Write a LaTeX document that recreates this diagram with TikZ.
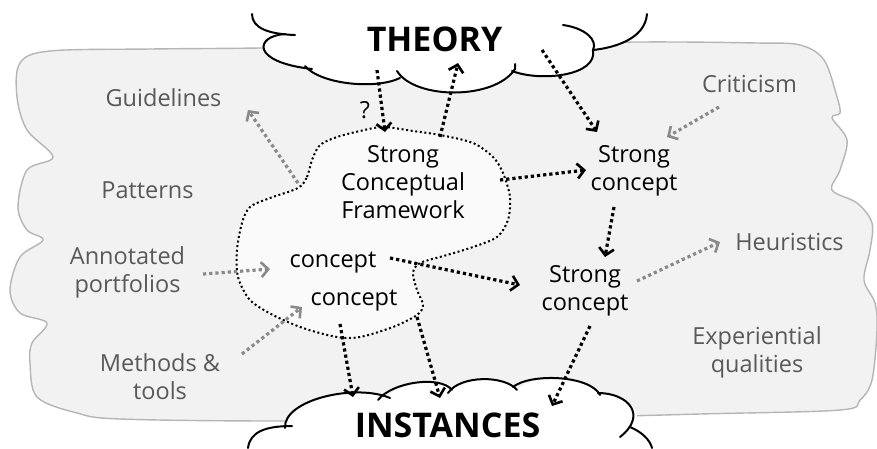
\documentclass[tikz,border=0pt]{standalone}
\usepackage{fontspec}
\setmainfont{Open Sans}
\usetikzlibrary{arrows.meta}
\definecolor{txtgray}{HTML}{595959}
\definecolor{arrgray}{HTML}{8A8A8A}
\definecolor{bgfill}{HTML}{F2F2F2}
\definecolor{bgline}{HTML}{B5B5B5}
\definecolor{blobfill}{HTML}{FAFAFA}
\begin{document}
\begin{tikzpicture}[x=1pt,y=-1pt,
  bgtext/.style={text=txtgray, align=center, font=\fontsize{23.5}{28}\selectfont, inner sep=0pt, anchor=base},
  fgtext/.style={text=black, align=center, font=\fontsize{23.5}{28}\selectfont, inner sep=0pt, anchor=base},
  titletext/.style={text=black, font=\bfseries\fontsize{34}{40}\selectfont, inner sep=0pt, anchor=base},
  flow/.style={draw=black, line width=3.2pt, dash pattern=on 3.2pt off 3pt, -{Straight Barb[length=7pt,width=15pt,line width=2.6pt]}},
  gflow/.style={flow, draw=arrgray},
  cloudline/.style={draw=black, line width=2pt, line cap=round},
  cloudfill/.style={fill=white},
  blobline/.style={draw=black, line width=2pt, dash pattern=on 2pt off 2.6pt, fill=blobfill},
]
\useasboundingbox (0,0) rectangle (877,448);
\clip (0,0) rectangle (877,448);

% background region
\filldraw[fill=bgfill, draw=bgline, line width=1.4pt]
  plot[smooth cycle, tension=0.55] coordinates {
  (50,51) (150,49) (260,48) (450,45) (637,42) (757,43) (800,45) (824,60) (837,97) (840,113)
  (832,118) (847,140) (840,170) (832,190) (857,203) (872,223) (870,250) (864,280)
  (875,303) (877,330) (872,380) (860,400) (840,410) (700,414) (500,419) (280,421)
  (120,419) (77,413) (37,397) (30,363) (32,343) (47,323) (20,313) (10,290) (20,257)
  (43,240) (27,230) (18,207) (27,170) (53,157) (27,130) (17,97) (20,63)};

% concept region
\path[blobline] plot[smooth cycle, tension=0.5] coordinates {
  (298,188) (307,177) (312,160) (320,145) (337,137) (360,131) (383,127) (413,131)
  (440,135) (473,143) (493,157) (503,173) (510,197) (508,220) (497,237) (473,247)
  (447,255) (420,263) (413,273) (417,290) (423,305) (417,315) (393,327) (360,337)
  (337,337) (303,328) (273,315) (250,300) (238,277) (237,250) (242,223) (250,207)
  (270,198)};

% THEORY cloud
\fill[cloudfill] (252,0) -- (252,14) .. controls (252,28) and (268,34) .. (285,34)
  .. controls (255,36) and (250,62) .. (305,66)
  .. controls (320,84) and (375,90) .. (400,78)
  .. controls (420,100) and (495,100) .. (515,69)
  .. controls (540,82) and (598,76) .. (593,50)
  .. controls (612,48) and (645,40) .. (647,14) -- (647,0) -- cycle;
\draw[cloudline] (252,14) .. controls (252,28) and (268,34) .. (295,35);
\draw[cloudline] (285,34) .. controls (255,36) and (250,62) .. (312,69);
\draw[cloudline] (305,66) .. controls (320,84) and (375,90) .. (400,78);
\draw[cloudline] (397,71) .. controls (415,100) and (495,100) .. (515,69) -- (515,64);
\draw[cloudline] (512,71) .. controls (540,82) and (598,76) .. (593,50);
\draw[cloudline] (563,25) .. controls (585,28) and (598,40) .. (593,50)
  .. controls (612,48) and (645,40) .. (647,14);

% INSTANCES cloud
\fill[cloudfill] (248,448) .. controls (250,432) and (265,426) .. (285,426)
  .. controls (283,400) and (355,383) .. (388,397)
  .. controls (395,382) and (440,375) .. (452,390)
  .. controls (462,375) and (505,375) .. (517,390)
  .. controls (532,373) and (590,375) .. (600,395)
  .. controls (625,393) and (645,412) .. (634,424)
  .. controls (644,432) and (650,440) .. (652,448) -- cycle;
\draw[cloudline] (248,448) .. controls (250,432) and (265,426) .. (292,426);
\draw[cloudline] (285,428) .. controls (283,400) and (355,383) .. (390,398);
\draw[cloudline] (378,400) .. controls (392,382) and (440,375) .. (452,390);
\draw[cloudline] (448,393) .. controls (460,375) and (505,375) .. (517,390);
\draw[cloudline] (513,387) .. controls (530,373) and (590,375) .. (600,395);
\draw[cloudline] (598,393) .. controls (628,393) and (648,415) .. (620,437);
\draw[cloudline] (630,427) .. controls (642,432) and (650,440) .. (652,448);

% texts (base anchor = baseline of last line)
\node[titletext] (theory) at (434.5,51) {THEORY};
\node[titletext] (instances) at (447.5,437) {INSTANCES};
\node[fgtext] (q) at (365,118) {?};
\node[fgtext] (scf) at (403,218.3) {Strong\\Conceptual\\Framework};
\node[fgtext] (sc1) at (634,190.7) {Strong\\concept};
\node[fgtext] (sc2) at (585,310.3) {Strong\\concept};
\node[fgtext] (ca) at (333,267) {concept};
\node[fgtext] (cb) at (354,305) {concept};
\node[bgtext] (guide) at (163.5,106) {Guidelines};
\node[bgtext] (patt) at (147.5,198) {Patterns};
\node[bgtext] (annot) at (127.5,292) {Annotated\\portfolios};
\node[bgtext] (meth) at (160,399) {Methods \&\\tools};
\node[bgtext] (crit) at (749.5,92) {Criticism};
\node[bgtext] (heur) at (789.5,250) {Heuristics};
\node[bgtext] (exper) at (757,372) {Experiential\\qualities};

% arrow end points
\coordinate (a1s) at (377,70);  \coordinate (a1e) at (385,132);
\coordinate (a2s) at (440,137); \coordinate (a2e) at (458,63);
\coordinate (a3s) at (542,50);  \coordinate (a3e) at (597,132);
\coordinate (a4s) at (500,180); \coordinate (a4e) at (586,170);
\coordinate (a5s) at (390,258); \coordinate (a5e) at (520,285);
\coordinate (a6s) at (614,207); \coordinate (a6e) at (605,257);
\coordinate (a7s) at (340,324); \coordinate (a7e) at (353,397);
\coordinate (a8s) at (417,317); \coordinate (a8e) at (440,398);
\coordinate (a9s) at (590,326); \coordinate (a9e) at (552,406);
\coordinate (g1s) at (298,183); \coordinate (g1e) at (248,110);
\coordinate (g2s) at (203,274); \coordinate (g2e) at (270,269);
\coordinate (g3s) at (242,354); \coordinate (g3e) at (302,307);
\coordinate (g4s) at (719,107); \coordinate (g4e) at (667,137);
\coordinate (g5s) at (637,281); \coordinate (g5e) at (720,242);

\draw[flow] (a1s) -- (a1e);
\draw[flow] (a2s) -- (a2e);
\draw[flow] (a3s) -- (a3e);
\draw[flow] (a4s) -- (a4e);
\draw[flow] (a5s) -- (a5e);
\draw[flow] (a6s) -- (a6e);
\draw[flow] (a7s) -- (a7e);
\draw[flow] (a8s) -- (a8e);
\draw[flow] (a9s) -- (a9e);
\draw[gflow] (g1s) -- (g1e);
\draw[gflow] (g2s) -- (g2e);
\draw[gflow] (g3s) -- (g3e);
\draw[gflow] (g4s) -- (g4e);
\draw[gflow] (g5s) -- (g5e);
\end{tikzpicture}
\end{document}
